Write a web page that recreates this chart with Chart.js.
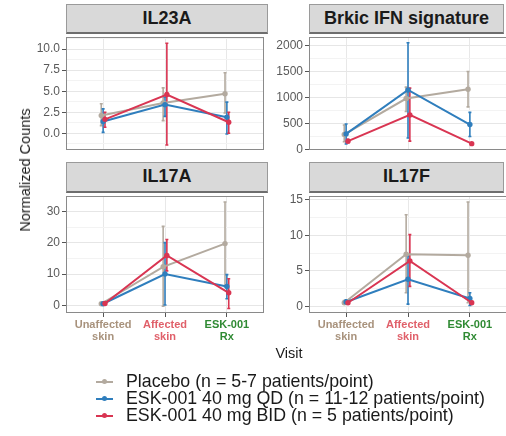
<!DOCTYPE html>
<html>
<head>
<meta charset="utf-8">
<script src="https://cdn.jsdelivr.net/npm/chart.js@4.4.1/dist/chart.umd.min.js"></script>
<style>
  html, body { margin: 0; padding: 0; background: #fff; }
  body { width: 506px; height: 436px; overflow: hidden; position: relative; font-family: 'Liberation Sans', Arial, sans-serif; }
  canvas { position: absolute; }
  .strip { position: absolute; box-sizing: border-box; background: #d9d9d9; border: 1px solid #9a9a9a; border-bottom: 2px solid #6e6e6e;
           font-weight: bold; font-size: 18px; color: #1a1a1a; text-align: center; line-height: 26px; }
  .ylab { position: absolute; left: 25px; top: 170px; transform: translate(-50%, -50%) rotate(-90deg); font-size: 14.5px; color: #1a1a1a; white-space: nowrap; }
  .xlab { position: absolute; left: 289px; top: 353px; transform: translate(-50%, -50%); font-size: 14.5px; color: #1a1a1a; }
  .legend { position: absolute; left: 96px; top: 373px; }
  .row { height: 17px; position: relative; font-size: 17.8px; line-height: 17px; color: #1a1a1a; white-space: nowrap; padding-left: 30px; }
  .key { position: absolute; left: 0; top: 8px; width: 17px; height: 2px; }
  .key i { position: absolute; left: 6px; top: -2px; width: 5px; height: 5px; border-radius: 50%; background: inherit; }
</style>
</head>
<body>
<div class="strip" style="left:66px;top:4px;width:202px;height:30px;">IL23A</div>
<div class="strip" style="left:309px;top:4px;width:195px;height:30px;">Brkic IFN signature</div>
<div class="strip" style="left:66px;top:162px;width:202px;height:31px;">IL17A</div>
<div class="strip" style="left:309px;top:162px;width:195px;height:31px;">IL17F</div>

<canvas id="c1" width="242" height="121" style="left:26px;top:33px;"></canvas>
<canvas id="c2" width="242" height="121" style="left:269px;top:33px;"></canvas>
<canvas id="c3" width="242" height="155" style="left:26px;top:192px;"></canvas>
<canvas id="c4" width="242" height="155" style="left:269px;top:192px;"></canvas>

<div class="ylab">Normalized Counts</div>
<div class="xlab">Visit</div>
<div class="legend" id="legend"></div>

<script>
// visits on the x axis
const visits = ['Unaffected skin', 'Affected skin', 'ESK-001 Rx'];
const visitLabels = [['Unaffected', 'skin'], ['Affected', 'skin'], ['ESK-001', 'Rx']];
const visitColors = ['#a8927c', '#e0606a', '#2f8a33'];

// treatment groups
const groups = ['Placebo (n = 5-7 patients/point)', 'ESK-001 40 mg QD (n = 11-12 patients/point)', 'ESK-001 40 mg BID (n = 5 patients/point)'];
const groupColors = ['#b3aa9f', '#2f7ebd', '#d93552'];

// rows: Placebo, QD, BID ; columns: visits
const il23aMean = [[2.1, 3.6, 4.7], [1.4, 3.4, 1.9], [1.65, 4.6, 1.3]];
const il23aLow  = [[0.9, 1.5, 2.4], [0.1, 2.0, -0.1], [0.7, -1.4, 0.0]];
const il23aHigh = [[3.5, 5.4, 7.2], [2.9, 4.3, 3.7], [2.5, 10.7, 2.5]];

const brkicMean = [[290, 980, 1160], [300, 1145, 480], [160, 665, 112]];
const brkicLow  = [[150, 730, 820], [105, 220, 250], [130, 160, 95]];
const brkicHigh = [[470, 1200, 1500], [490, 2055, 715], [195, 1180, 130]];

const il17aMean = [[0.5, 12.3, 19.7], [0.5, 10.0, 6.0], [0.6, 15.9, 4.0]];
const il17aLow  = [[0.2, -0.3, 6.0], [0.3, 0.1, 2.1], [0.4, 11.0, -1.0]];
const il17aHigh = [[0.8, 25.2, 33.0], [0.8, 20.0, 9.8], [0.9, 21.0, 8.5]];

const il17fMean = [[0.5, 7.35, 7.2], [0.6, 3.8, 1.1], [0.5, 6.4, 0.5]];
const il17fLow  = [[0.3, 1.9, 0.5], [0.3, 0.3, 0.1], [0.3, 2.8, 0.3]];
const il17fHigh = [[0.8, 12.9, 14.7], [0.9, 7.1, 1.9], [0.7, 10.1, 0.7]];

// y axis ticks
const il23aTicks = [0, 2.5, 5, 7.5, 10];
const il23aTickLabels = ['0.0', '2.5', '5.0', '7.5', '10.0'];
const brkicTicks = [0, 500, 1000, 1500, 2000];
const brkicTickLabels = ['0', '500', '1000', '1500', '2000'];
const il17aTicks = [0, 10, 20, 30];
const il17aTickLabels = ['0', '10', '20', '30'];
const il17fTicks = [0, 5, 10, 15];
const il17fTickLabels = ['0', '5', '10', '15'];

const dodge = [-0.03, 0, 0.03];

// error bars, drawn under the lines
const errorBars = {
    id: 'errorBars',
    beforeDatasetsDraw(chart) {
        const ctx = chart.ctx;
        const y = chart.scales.y;
        const a = chart.chartArea;
        ctx.save();
        ctx.beginPath();
        ctx.rect(a.left, a.top, a.right - a.left, a.bottom - a.top);
        ctx.clip();
        chart.data.datasets.forEach((ds, i) => {
            const meta = chart.getDatasetMeta(i);
            ctx.strokeStyle = ds.borderColor;
            ctx.lineWidth = 1.6;
            meta.data.forEach((pt, j) => {
                const top = y.getPixelForValue(ds.high[j]);
                const bot = y.getPixelForValue(ds.low[j]);
                ctx.beginPath();
                ctx.moveTo(pt.x, top); ctx.lineTo(pt.x, bot);
                ctx.moveTo(pt.x - 1.5, top); ctx.lineTo(pt.x + 1.5, top);
                ctx.moveTo(pt.x - 1.5, bot); ctx.lineTo(pt.x + 1.5, bot);
                ctx.stroke();
            });
        });
        ctx.restore();
    }
};

// panel border on top
const panelBorder = {
    id: 'panelBorder',
    afterDatasetsDraw(chart) {
        const ctx = chart.ctx, a = chart.chartArea;
        ctx.save();
        ctx.strokeStyle = '#8a8a8a';
        ctx.lineWidth = 1;
        ctx.strokeRect(a.left + 0.5, a.top + 0.5, a.right - a.left - 1, a.bottom - a.top - 1);
        ctx.restore();
    }
};

function makePanel(id, mean, low, high, ticks, tickLabels, yMin, yMax, showX) {
    const step = ticks[1] - ticks[0];
    const minor = [];
    for (let i = -1; i < ticks.length; i++) {
        const v = ticks[0] + step * i + step / 2;
        if (v > yMin && v < yMax) minor.push(v);
    }
    const datasets = groups.map((g, gi) => ({
        label: g,
        data: mean[gi].map((v, vi) => ({ x: vi + 1 + dodge[gi], y: v })),
        low: low[gi],
        high: high[gi],
        borderColor: groupColors[gi],
        backgroundColor: groupColors[gi],
        pointBackgroundColor: groupColors[gi],
        borderWidth: 2,
        pointRadius: 2.7,
        pointBorderWidth: 0,
        tension: 0,
        order: 2 - gi
    }));

    new Chart(document.getElementById(id), {
        type: 'line',
        data: { datasets: datasets },
        options: {
            responsive: false,
            animation: false,
            layout: { padding: 0 },
            plugins: { legend: { display: false }, tooltip: { enabled: false } },
            scales: {
                x: {
                    type: 'linear',
                    min: 0.4,
                    max: 3.6,
                    afterBuildTicks: s => { s.ticks = visits.map((v, i) => ({ value: i + 1 })); },
                    afterFit: s => { s.height = showX ? 34 : 0; s.paddingLeft = 0; s.paddingRight = 0; },
                    border: { display: false },
                    grid: { color: '#e8e8e8', lineWidth: 1, drawTicks: showX, tickLength: 4, tickColor: '#555' },
                    ticks: {
                        display: showX,
                        autoSkip: false,
                        maxRotation: 0,
                        padding: 2,
                        font: { family: 'Liberation Sans', size: 11, weight: 'bold', lineHeight: 1.1 },
                        color: c => visitColors[c.index],
                        callback: v => visitLabels[Math.round(v) - 1]
                    }
                },
                y: {
                    type: 'linear',
                    min: yMin,
                    max: yMax,
                    afterBuildTicks: s => {
                        const all = ticks.map(v => ({ value: v, isMinor: false }))
                            .concat(minor.map(v => ({ value: v, isMinor: true })));
                        all.sort((p, q) => p.value - q.value);
                        s.ticks = all;
                    },
                    afterFit: s => { s.width = 40; s.paddingTop = 0; s.paddingBottom = 0; },
                    border: { display: false },
                    grid: {
                        color: c => (c.tick && c.tick.isMinor) ? '#f3f3f3' : '#e6e6e6',
                        lineWidth: 1,
                        tickLength: 4,
                        tickColor: c => (c.tick && c.tick.isMinor) ? 'rgba(0,0,0,0)' : '#555'
                    },
                    ticks: {
                        autoSkip: false,
                        padding: 2,
                        color: '#5a5a5a',
                        font: { family: 'Liberation Sans', size: 12 },
                        callback: (v, i, t) => {
                            const k = ticks.indexOf(v);
                            return k >= 0 ? tickLabels[k] : '';
                        }
                    }
                }
            }
        },
        plugins: [errorBars, panelBorder]
    });
}

makePanel('c1', il23aMean, il23aLow, il23aHigh, il23aTicks, il23aTickLabels, -2.0, 11.45, false);
makePanel('c2', brkicMean, brkicLow, brkicHigh, brkicTicks, brkicTickLabels, -10, 2165, false);
makePanel('c3', il17aMean, il17aLow, il17aHigh, il17aTicks, il17aTickLabels, -2.45, 34.9, true);
makePanel('c4', il17fMean, il17fLow, il17fHigh, il17fTicks, il17fTickLabels, -0.95, 15.55, true);

// legend
const legend = document.getElementById('legend');
groups.forEach((g, i) => {
    const row = document.createElement('div');
    row.className = 'row';
    row.innerHTML = '<span class="key" style="background:' + groupColors[i] + '"><i></i></span>' + g;
    legend.appendChild(row);
});
</script>
</body>
</html>
